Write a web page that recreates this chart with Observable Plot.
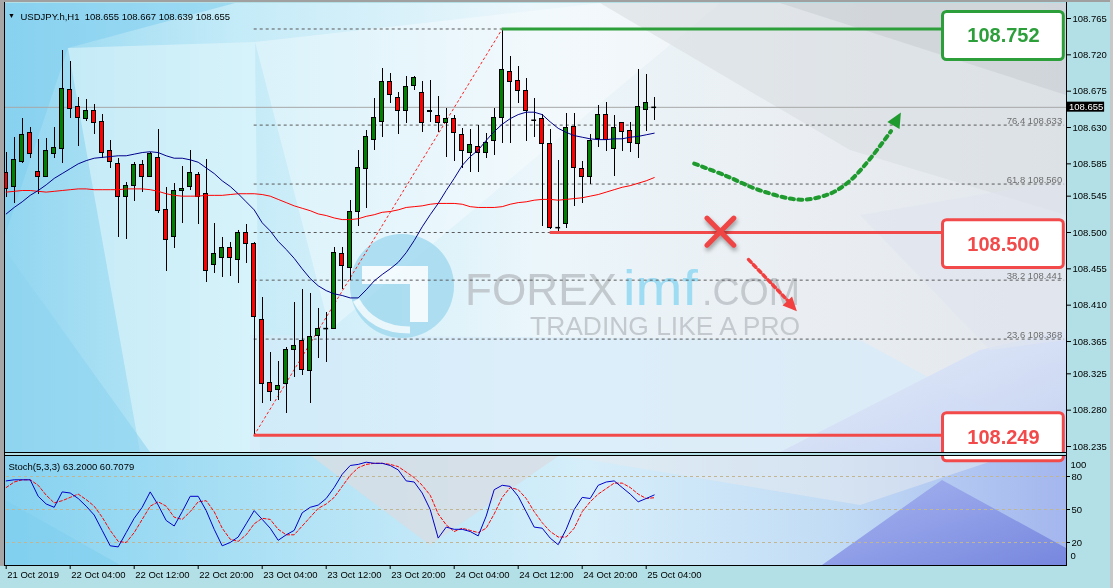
<!DOCTYPE html>
<html><head><meta charset="utf-8">
<script src="https://cdn.jsdelivr.net/npm/d3@7"></script>
<script src="https://cdn.jsdelivr.net/npm/@observablehq/plot@0.6"></script>
<style>
html,body{margin:0;padding:0;background:#b2e0e6;}
#wrap{position:relative;width:1113px;height:588px;overflow:hidden;background:#b2e0e6;font-family:"Liberation Sans",Arial,sans-serif;}
#wrap > svg{position:absolute;left:0;top:0;}
</style></head><body><div id="wrap"></div>
<script>
// ---------- data ----------
const header = "USDJPY.h,H1\u00a0\u00a0108.655 108.667 108.639 108.655";
const stochTitle = "Stoch(5,3,3) 63.2000 60.7079";
const timeLabels = ["21 Oct 2019","22 Oct 04:00","22 Oct 12:00","22 Oct 20:00","23 Oct 04:00","23 Oct 12:00","23 Oct 20:00","24 Oct 04:00","24 Oct 12:00","24 Oct 20:00","25 Oct 04:00"];
const tickBars = [1,9,17,25,33,41,49,57,65,73,81];
const priceTicks = [108.765,108.720,108.675,108.630,108.585,108.545,108.500,108.455,108.410,108.365,108.325,108.280,108.235];
const stochTicks = [80,50,20];

const open  = [108.574,108.556,108.587,108.623,108.575,108.569,108.597,108.604,108.677,108.655,108.640,108.650,108.637,108.601,108.585,108.544,108.557,108.584,108.569,108.592,108.528,108.494,108.552,108.556,108.571,108.548,108.460,108.469,108.481,108.466,108.500,108.486,108.392,108.314,108.305,108.312,108.355,108.366,108.329,108.372,108.381,108.381,108.473,108.456,108.526,108.579,108.615,108.637,108.686,108.667,108.651,108.682,108.673,108.649,108.644,108.636,108.640,108.621,108.599,108.606,108.599,108.613,108.642,108.699,108.688,108.675,108.639,108.641,108.610,108.506,108.511,108.631,108.579,108.569,108.616,108.645,108.603,108.635,108.626,108.610,108.652,108.655];
const high  = [108.599,108.618,108.641,108.630,108.615,108.616,108.630,108.725,108.712,108.667,108.665,108.658,108.646,108.614,108.592,108.562,108.587,108.589,108.599,108.627,108.556,108.561,108.582,108.601,108.574,108.590,108.511,108.494,108.487,108.502,108.510,108.487,108.419,108.352,108.340,108.357,108.413,108.429,108.424,108.406,108.401,108.481,108.481,108.540,108.601,108.626,108.666,108.703,108.697,108.673,108.693,108.693,108.687,108.688,108.668,108.653,108.645,108.629,108.627,108.632,108.623,108.653,108.752,108.718,108.706,108.691,108.666,108.646,108.627,108.589,108.647,108.647,108.588,108.621,108.657,108.661,108.645,108.636,108.636,108.702,108.696,108.667];
const low   = [108.543,108.536,108.585,108.592,108.547,108.568,108.592,108.585,108.641,108.606,108.637,108.621,108.592,108.579,108.494,108.491,108.538,108.549,108.568,108.523,108.452,108.480,108.511,108.552,108.510,108.438,108.449,108.444,108.445,108.437,108.461,108.249,108.288,108.291,108.292,108.276,108.320,108.323,108.288,108.344,108.339,108.380,108.430,108.440,108.508,108.530,108.601,108.618,108.660,108.621,108.635,108.676,108.624,108.636,108.624,108.593,108.588,108.579,108.574,108.574,108.592,108.595,108.610,108.610,108.660,108.613,108.618,108.507,108.504,108.498,108.505,108.532,108.536,108.559,108.605,108.600,108.569,108.600,108.599,108.592,108.625,108.639];
const close = [108.554,108.590,108.621,108.597,108.569,108.601,108.605,108.678,108.653,108.642,108.650,108.636,108.599,108.587,108.544,108.557,108.583,108.569,108.597,108.527,108.491,108.552,108.554,108.574,108.544,108.452,108.473,108.481,108.469,108.499,108.486,108.395,108.312,108.303,108.310,108.355,108.359,108.330,108.370,108.380,108.381,108.474,108.458,108.526,108.580,108.618,108.642,108.686,108.670,108.650,108.680,108.691,108.635,108.651,108.636,108.641,108.623,108.601,108.608,108.598,108.611,108.642,108.701,108.686,108.675,108.650,108.639,108.609,108.505,108.506,108.630,108.580,108.569,108.613,108.646,108.614,108.629,108.625,108.611,108.655,108.660,108.655];

const maFast = [108.523,108.531,108.538,108.546,108.552,108.559,108.567,108.573,108.579,108.585,108.589,108.592,108.593,108.594,108.595,108.595,108.597,108.599,108.600,108.599,108.595,108.592,108.592,108.590,108.587,108.580,108.573,108.564,108.557,108.548,108.538,108.528,108.512,108.502,108.489,108.479,108.468,108.455,108.443,108.434,108.428,108.424,108.422,108.419,108.419,108.429,108.440,108.448,108.455,108.463,108.475,108.490,108.507,108.522,108.536,108.552,108.567,108.583,108.594,108.602,108.614,108.625,108.634,108.641,108.646,108.649,108.649,108.646,108.637,108.629,108.624,108.620,108.618,108.616,108.615,108.615,108.616,108.616,108.618,108.619,108.621,108.623];
const maSlow = [108.550,108.551,108.552,108.552,108.551,108.550,108.551,108.552,108.553,108.554,108.554,108.553,108.553,108.553,108.553,108.554,108.554,108.554,108.553,108.551,108.548,108.546,108.545,108.545,108.545,108.546,108.546,108.546,108.547,108.548,108.548,108.548,108.547,108.545,108.541,108.537,108.533,108.530,108.527,108.523,108.521,108.518,108.516,108.516,108.517,108.520,108.522,108.525,108.526,108.528,108.531,108.532,108.533,108.535,108.536,108.536,108.536,108.535,108.532,108.531,108.531,108.531,108.532,108.535,108.537,108.538,108.540,108.541,108.541,108.540,108.541,108.542,108.543,108.545,108.547,108.550,108.553,108.556,108.558,108.561,108.564,108.568];

const stochMain   = [76,77,77,77,62,55,52,66,65,60,53,45,31,17,16,29,42,52,66,54,40,35,48,62,62,49,32,17,20,25,37,49,41,33,22,27,31,47,52,54,60,70,82,90,91,93,92,92,90,86,76,75,65,50,24,34,32,32,30,26,44,68,72,71,62,48,34,33,24,18,32,50,61,60,72,75,76,70,64,57,60,63.2];
const stochSignal = [70,75,77,77,72,63,56,58,61,64,59,53,43,31,21,20,29,41,53,57,53,43,41,48,57,58,48,33,23,21,27,37,42,41,32,27,27,35,43,51,55,61,71,81,88,91,92,92,91,89,84,79,72,63,46,36,30,33,31,29,33,46,61,70,68,60,48,38,30,25,25,33,48,57,64,69,74,74,70,64,60,60.7];

const fibLevels = [0,23.6,38.2,50,61.8,76.4,100];
const fibPrices = [108.249,108.368,108.441,108.500,108.560,108.633,108.752];
const fibShown  = [false,true,true,false,true,true,false];   // the other labels sit under the boxes
const keyLevels = [108.752,108.500,108.249];
const keyLabels = ["108.752","108.500","108.249"];
const lastPrice = 108.655;
const swingLowBar = 32, swingHighBar = 63, touchBar = 69;

// ---------- annotation geometry (bar index, price) ----------
const X_DOMAIN = [1, 133.5], X_RANGE = [5.7, 1065.7];
const boxX = [118.1, 133.2];
const boxY = [[108.7731,108.7136],[108.5153,108.4559],[108.2762,108.2167]];
const boxTextY = [108.7433,108.4856,108.2465];
const boxColors = ["#2c9e3a","#f24a4a","#f24a4a"];
const greenCurve = [[87.0,108.5853],[90.9,108.5705],[95.3,108.5519],[100.3,108.5407],[104.0,108.5482],[106.5,108.5643],[109.0,108.5915],[111.6,108.6255]];
const greenTip = [112.9,108.6480];
const redArrow = [[93.8,108.4664],[98.9,108.4135]];
const redTip = [99.9,108.4020];
const crossArms = [{x1:88.6,y1:108.5178,x2:91.95,y2:108.4843},{x1:88.6,y1:108.4843,x2:91.95,y2:108.5178}];

// ---------- build ----------
const wrap = document.getElementById("wrap");
const font = '"Liberation Sans", Arial, sans-serif';

// background
const bg = `<svg width="1113" height="588" xmlns="http://www.w3.org/2000/svg">
<defs>
<linearGradient id="gMain" x1="0" y1="0" x2="1" y2="0">
<stop offset="0" stop-color="#92d6f0"/><stop offset="0.22" stop-color="#c4ebf8"/><stop offset="0.5" stop-color="#ebf6fb"/><stop offset="0.75" stop-color="#eaeef2"/><stop offset="1" stop-color="#e2e7ed"/></linearGradient>
<linearGradient id="gLav" x1="0" y1="0" x2="1" y2="1"><stop offset="0" stop-color="#e6eefa"/><stop offset="1" stop-color="#c3d0f2"/></linearGradient>
<linearGradient id="gPurple" x1="0" y1="0" x2="1" y2="1"><stop offset="0" stop-color="#a7b5f0"/><stop offset="1" stop-color="#7787de"/></linearGradient>
<linearGradient id="gSt" x1="0" y1="0" x2="1" y2="0">
<stop offset="0" stop-color="#86d2f0"/><stop offset="0.3" stop-color="#b5e4f6"/><stop offset="0.55" stop-color="#d6eefa"/><stop offset="0.78" stop-color="#c2dcf5"/><stop offset="1" stop-color="#a4b6ee"/></linearGradient>
<clipPath id="cMain"><rect x="5" y="3" width="1061" height="449"/></clipPath>
<clipPath id="cSt"><rect x="5" y="455" width="1061" height="110"/></clipPath>
</defs>
<g clip-path="url(#cMain)">
<rect x="5" y="3" width="1061" height="449" fill="url(#gMain)"/>
<polygon points="5,3 235,3 68,48 5,235" fill="#7fcdee" opacity="0.55"/>
<polygon points="68,48 255,42 260,452 140,452" fill="#e4f7fc" opacity="0.55"/>
<polygon points="5,250 150,452 5,452" fill="#8ed4f0" opacity="0.6"/>
<polygon points="255,42 600,3 720,3 330,330" fill="#ffffff" opacity="0.35"/>
<polygon points="600,3 1066,3 1066,215 850,150" fill="#d8dde1" opacity="0.6"/>
<polygon points="780,3 1066,3 1066,95" fill="#c7ccd1" opacity="0.55"/>
<polygon points="250,335 860,340 1066,452 250,452" fill="#d6ebf9" opacity="0.7"/>
<polygon points="780,452 980,350 1066,330 1066,452" fill="url(#gLav)" opacity="0.9"/>
<polygon points="860,215 1066,180 1066,340 990,350" fill="#dfe5ef" opacity="0.6"/>
</g>
<g clip-path="url(#cSt)">
<rect x="5" y="455" width="1061" height="110" fill="url(#gSt)"/>
<polygon points="310,455 560,455 430,545" fill="#d8dde3" opacity="0.8"/>
<polygon points="560,455 1010,455 860,505" fill="#e6eaee" opacity="0.55"/>
<polygon points="5,500 120,565 5,565" fill="#7ccdee" opacity="0.5"/>
<polygon points="822,565 942,480 1066,548 1066,565" fill="url(#gPurple)"/>
</g>
<g opacity="0.85">
<circle cx="402" cy="286" r="52" fill="#a3daef"/>
<path d="M362,266 L428,266 L428,322 L410,322 L410,284 L362,284 Z" fill="#ffffff" opacity="0.9"/>
<path d="M356,300 Q372,330 410,330" fill="none" stroke="#ffffff" stroke-width="7" opacity="0.8"/>
<text x="465" y="305" font-family='${font}' font-size="44" fill="#bcc2c7" textLength="152" lengthAdjust="spacingAndGlyphs">FOREX</text>
<text x="623" y="305" font-family='${font}' font-size="50" fill="#8fd8f2" textLength="75" lengthAdjust="spacingAndGlyphs">imf</text>
<text x="702" y="305" font-family='${font}' font-size="38" fill="#bcc2c7" textLength="98" lengthAdjust="spacingAndGlyphs">.COM</text>
<text x="530" y="335" font-family='${font}' font-size="25" fill="#bcc2c7" textLength="270" lengthAdjust="spacingAndGlyphs">TRADING LIKE A PRO</text>
</g>
</svg>`;
wrap.insertAdjacentHTML("beforeend", bg);

const candles = open.map((o, k) => ({bar: k + 1, o, h: high[k], l: low[k], c: close[k]}));
const bodies = candles.filter(d => Math.abs(d.o - d.c) >= 0.0009);
const dojis = candles.filter(d => Math.abs(d.o - d.c) < 0.0009);
const idx = (d, i) => i + 1;
const fibLabelled = fibPrices.map((p, i) => ({p, lvl: fibLevels[i]})).filter((d, i) => fibShown[i]);

// stochastic panel
const stoch = Plot.plot({
  width: 1113, height: 588,
  marginTop: 454, marginBottom: 23, marginLeft: 0, marginRight: 47,
  style: {background: "transparent", fontFamily: font, fontSize: "9.5px", color: "black", overflow: "visible"},
  x: {domain: X_DOMAIN, range: X_RANGE, axis: "bottom", ticks: tickBars, tickFormat: d => timeLabels[tickBars.indexOf(d)], tickSize: 4, tickPadding: 2, label: null},
  y: {domain: [0, 100], range: [564, 454], axis: "right", ticks: stochTicks, tickSize: 3, tickPadding: 2, label: null},
  marks: [
    Plot.ruleY(stochTicks, {stroke: "#c2b592", strokeDasharray: "3,3"}),
    Plot.line(stochSignal, {x: idx, y: d => d, stroke: "#ff0000", strokeWidth: 1, strokeDasharray: "3,2"}),
    Plot.line(stochMain, {x: idx, y: d => d, stroke: "#0000c8", strokeWidth: 1}),
    Plot.text([stochTitle], {frameAnchor: "top-left", dx: 8, dy: 9, textAnchor: "start", fill: "black", fontSize: 9.5}),
    Plot.text(["100"], {frameAnchor: "top-right", dx: 4, dy: 7, textAnchor: "start", fill: "black"}),
    Plot.text(["0"], {frameAnchor: "bottom-right", dx: 4, dy: -7, textAnchor: "start", fill: "black"})
  ]
});
wrap.appendChild(stoch);
d3.select(stoch).selectAll('g[aria-label^="x-axis"] text').attr("text-anchor", "start").attr("dx", "1");

// main price panel
const main = Plot.plot({
  width: 1113, height: 588,
  marginTop: 3, marginBottom: 136, marginLeft: 0, marginRight: 47,
  style: {background: "transparent", fontFamily: font, fontSize: "9.5px", color: "black", overflow: "visible"},
  x: {domain: X_DOMAIN, range: X_RANGE, axis: null},
  y: {domain: [108.235, 108.765], range: [446, 18], axis: "right", ticks: priceTicks, tickFormat: d => d.toFixed(3), tickSize: 4, tickPadding: 2, label: null},
  marks: [
    Plot.ruleY(fibPrices, {x1: () => swingLowBar, x2: () => 133.3, stroke: "#5a5a5a", strokeDasharray: "3,3", strokeWidth: 1}),
    Plot.text(fibLabelled, {x: () => 133.0, y: "p", text: d => `${d.lvl.toFixed(1)} ${d.p.toFixed(3)}`, textAnchor: "end", lineAnchor: "bottom", dy: -1, fill: "#6e6e6e", fontSize: 9.5}),
    Plot.ruleY([lastPrice], {stroke: "#a8a8a8", strokeWidth: 1}),
    Plot.line([[swingLowBar, fibPrices[0]], [swingHighBar, fibPrices[6]]], {stroke: "#ff2020", strokeWidth: 1, strokeDasharray: "2,3"}),
    Plot.ruleX(candles, {x: "bar", y1: "l", y2: "h", stroke: "black", strokeWidth: 1, shapeRendering: "crispEdges"}),
    Plot.rect(bodies, {x1: d => d.bar - 0.26, x2: d => d.bar + 0.26, y1: "o", y2: "c", fill: d => d.c > d.o ? "#008000" : "#ff0000", stroke: "black", strokeWidth: 1, shapeRendering: "crispEdges"}),
    Plot.ruleY(dojis, {y: "o", x1: d => d.bar - 0.3, x2: d => d.bar + 0.3, stroke: "black", strokeWidth: 1.5}),
    Plot.line(maSlow, {x: idx, y: d => d, stroke: "#ff0000", strokeWidth: 1}),
    Plot.line(maFast, {x: idx, y: d => d, stroke: "#00008b", strokeWidth: 1}),
    Plot.ruleY(keyLevels, {x1: (d, i) => [swingHighBar, touchBar, swingLowBar][i], x2: () => boxX[0], stroke: (d, i) => boxColors[i], strokeWidth: 3}),
    Plot.rect(keyLevels, {x1: () => boxX[0], x2: () => boxX[1], y1: (d, i) => boxY[i][0], y2: (d, i) => boxY[i][1], fill: "white", stroke: (d, i) => boxColors[i], strokeWidth: 3, rx: 4}),
    Plot.text(keyLabels, {x: () => (boxX[0] + boxX[1]) / 2, y: (d, i) => boxTextY[i], text: d => d, fill: (d, i) => boxColors[i], fontSize: 20, fontWeight: "bold", textAnchor: "middle"}),
    Plot.line(greenCurve, {curve: "catmull-rom", stroke: "#1e9a2e", strokeWidth: 4, strokeDasharray: "4,4.5"}),
    Plot.line(redArrow, {stroke: "#f24040", strokeWidth: 3.5, strokeDasharray: "3.5,3.5"}),
    Plot.link(crossArms, {x1: "x1", y1: "y1", x2: "x2", y2: "y2", stroke: "#f04545", strokeWidth: 5, strokeLinecap: "round"}),
    Plot.rect([lastPrice], {x1: () => 133.6, x2: () => 138.3, y1: d => d + 0.0064, y2: d => d - 0.0060, fill: "black"}),
    Plot.text([lastPrice], {x: () => 133.6, y: d => d, text: d => d.toFixed(3), fill: "white", textAnchor: "start", dx: 2}),
    Plot.text(["\u25BC"], {frameAnchor: "top-left", dx: 11, dy: 10, fill: "black", fontSize: 7, textAnchor: "middle"}),
    Plot.text([header], {frameAnchor: "top-left", dx: 20, dy: 10, fill: "black", fontSize: 9.5, textAnchor: "start"})
  ]
});
wrap.appendChild(main);

// arrowheads + cross shadow, placed with the plot's own scales
const sx = main.scale("x"), sy = main.scale("y");
function head(tip, from, color, len, half) {
  const tx = sx.apply(tip[0]), ty = sy.apply(tip[1]);
  const fx = sx.apply(from[0]), fy = sy.apply(from[1]);
  const dx = tx - fx, dy = ty - fy, L = Math.hypot(dx, dy), ux = dx / L, uy = dy / L;
  const bx = tx - ux * len, by = ty - uy * len;
  d3.select(main).append("path")
    .attr("d", `M${tx},${ty}L${bx - uy * half},${by + ux * half}L${bx + uy * half},${by - ux * half}Z`)
    .attr("fill", color);
}
head(greenTip, greenCurve[greenCurve.length - 1], "#1e9a2e", 15, 7);
head(redTip, redArrow[0], "#f24040", 14, 6.5);
d3.select(main).selectAll('g[aria-label="link"]').style("filter", "drop-shadow(1px 3px 2px rgba(0,0,0,0.35))");

// frames
const fr = `<svg width="1113" height="588" xmlns="http://www.w3.org/2000/svg" style="pointer-events:none">
<rect x="0" y="0" width="1113" height="2" fill="#a0a0a0"/>
<rect x="0" y="0" width="4" height="566" fill="#a6a6a6"/>
<rect x="1110" y="0" width="3" height="588" fill="#c8c8c8"/>
<rect x="5" y="453" width="1061" height="2" fill="#b2e0e6"/>
<line x1="4.5" y1="2" x2="4.5" y2="566" stroke="black"/>
<line x1="4" y1="452.5" x2="1066" y2="452.5" stroke="black"/>
<line x1="4" y1="455.5" x2="1066" y2="455.5" stroke="black"/>
<line x1="4" y1="565.5" x2="1066" y2="565.5" stroke="black"/>
<line x1="1066.5" y1="2" x2="1066.5" y2="566" stroke="black"/>
</svg>`;
wrap.insertAdjacentHTML("beforeend", fr);
</script></body></html>
